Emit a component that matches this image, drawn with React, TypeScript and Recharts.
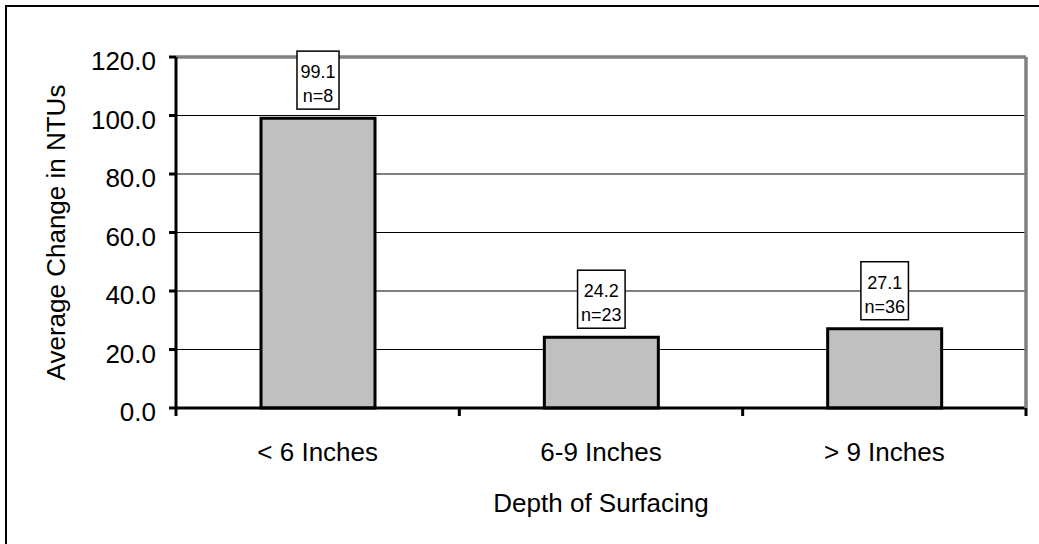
import React from 'react';
import {
  BarChart,
  Bar,
  XAxis,
  YAxis,
  CartesianGrid,
  ReferenceLine,
  LabelList,
  Label,
} from 'recharts';

// ---- data ----
const categories = ['< 6 Inches', '6-9 Inches', '> 9 Inches'];
const averages = [99.1, 24.2, 27.1];
const counts = [8, 23, 36];
const yTicks = [0, 20, 40, 60, 80, 100, 120];
const xTitle = 'Depth of Surfacing';
const yTitle = 'Average Change in NTUs';

const data = categories.map((c, i) => ({ category: c, value: averages[i], n: counts[i] }));

// ---- layout ----
const W = 1039;
const H = 544;
const PLOT_LEFT = 176;
const PLOT_TOP = 57;
const RIGHT_W = 13;
const XAXIS_H = 136;
const PLOT_RIGHT = W - RIGHT_W;
const BAND = (PLOT_RIGHT - PLOT_LEFT) / categories.length;
const FONT = '"Liberation Sans", Arial, Helvetica, sans-serif';
const AXIS_FS = 26;

let ctx: CanvasRenderingContext2D | null = null;
function measure(text: string, size: number): number {
  try {
    if (!ctx) ctx = document.createElement('canvas').getContext('2d');
    if (ctx) {
      ctx.font = `${size}px ${FONT}`;
      return ctx.measureText(text).width;
    }
  } catch (e) {}
  return text.length * size * 0.55;
}

const XTick = (props: any) => {
  const { x, y, payload, index } = props;
  const half = BAND / 2;
  const last = index === categories.length - 1;
  return (
    <g>
      <line x1={x - half} x2={x - half} y1={y} y2={y + 8} stroke="#000" strokeWidth={3} />
      {last && <line x1={x + half} x2={x + half} y1={y} y2={y + 8} stroke="#000" strokeWidth={3} />}
      <text x={x} y={y + 53} textAnchor="middle" fontSize={AXIS_FS} fontFamily={FONT} fill="#000">
        {payload.value}
      </text>
    </g>
  );
};

const YTick = (props: any) => {
  const { x, y, payload } = props;
  return (
    <text x={x} y={y + 13} textAnchor="end" fontSize={AXIS_FS} fontFamily={FONT} fill="#000">
      {Number(payload.value).toFixed(1)}
    </text>
  );
};

const BoxLabel = (props: any) => {
  const { x, y, width, index } = props;
  const cx = Number(x) + Number(width) / 2;
  const l1 = String(averages[index]);
  const l2 = `n=${counts[index]}`;
  const fs = 18;
  const tw = Math.max(measure(l1, fs), measure(l2, fs));
  const bw = tw + 7;
  const bottom = Number(y) - 9;
  const top = bottom - 58;
  return (
    <g>
      <rect x={cx - bw / 2} y={top} width={bw} height={58} fill="#fff" stroke="#000" strokeWidth={1.5} />
      <text x={cx} y={top + 27} textAnchor="middle" fontSize={fs} fontFamily={FONT} fill="#000">
        {l1}
      </text>
      <text x={cx} y={top + 51} textAnchor="middle" fontSize={fs} fontFamily={FONT} fill="#000">
        {l2}
      </text>
    </g>
  );
};

const YTitle = (props: any) => {
  const vb = props.viewBox || { x: 0, y: PLOT_TOP, width: PLOT_LEFT, height: 351 };
  const cx = vb.x + 65;
  const cy = vb.y + vb.height / 2;
  return (
    <text
      x={cx}
      y={cy}
      transform={`rotate(-90, ${cx}, ${cy})`}
      textAnchor="middle"
      fontSize={AXIS_FS}
      fontFamily={FONT}
      fill="#000"
    >
      {yTitle}
    </text>
  );
};

const XTitle = (props: any) => {
  const vb = props.viewBox || { x: PLOT_LEFT, y: H - XAXIS_H, width: PLOT_RIGHT - PLOT_LEFT, height: XAXIS_H };
  return (
    <text x={vb.x + vb.width / 2} y={vb.y + 104} textAnchor="middle" fontSize={AXIS_FS} fontFamily={FONT} fill="#000">
      {xTitle}
    </text>
  );
};

export default function App() {
  return (
    <div style={{ position: 'absolute', left: 0, top: 0, width: W, height: H, background: '#fff', overflow: 'hidden' }}>
      <div
        style={{
          position: 'absolute',
          left: 5,
          top: 5,
          width: W + 20,
          height: H + 20,
          borderTop: '2.5px solid #000',
          borderLeft: '2.5px solid #000',
          boxSizing: 'border-box',
        }}
      />
      <div style={{ position: 'absolute', left: 0, top: 0 }}>
        <BarChart width={W} height={H} data={data} margin={{ top: PLOT_TOP, right: 0, bottom: 0, left: 0 }}>
          <CartesianGrid vertical={false} stroke="#000" strokeWidth={1} strokeDasharray="" />
          <XAxis
            dataKey="category"
            height={XAXIS_H}
            axisLine={{ stroke: '#000', strokeWidth: 3 }}
            tickLine={false}
            tickSize={0}
            tickMargin={0}
            interval={0}
            tick={(p: any) => <XTick {...p} />}
          >
            <Label content={(p: any) => <XTitle {...p} />} />
          </XAxis>
          <YAxis
            width={PLOT_LEFT}
            domain={[0, 120]}
            ticks={yTicks}
            interval={0}
            axisLine={{ stroke: '#000', strokeWidth: 3 }}
            tickLine={{ stroke: '#000', strokeWidth: 3 }}
            tickSize={7}
            tickMargin={13}
            tick={(p: any) => <YTick {...p} />}
          >
            <Label content={(p: any) => <YTitle {...p} />} />
          </YAxis>
          <YAxis
            yAxisId="r"
            orientation="right"
            width={RIGHT_W}
            domain={[0, 120]}
            tick={false}
            tickLine={false}
            axisLine={{ stroke: '#808080', strokeWidth: 3.5 }}
          />
          <ReferenceLine y={120} stroke="#808080" strokeWidth={3.5} />
          <Bar
            dataKey="value"
            fill="#c0c0c0"
            stroke="#000"
            strokeWidth={3}
            barSize={114}
            isAnimationActive={false}
          >
            <LabelList dataKey="value" content={(p: any) => <BoxLabel {...p} />} />
          </Bar>
        </BarChart>
      </div>
    </div>
  );
}
